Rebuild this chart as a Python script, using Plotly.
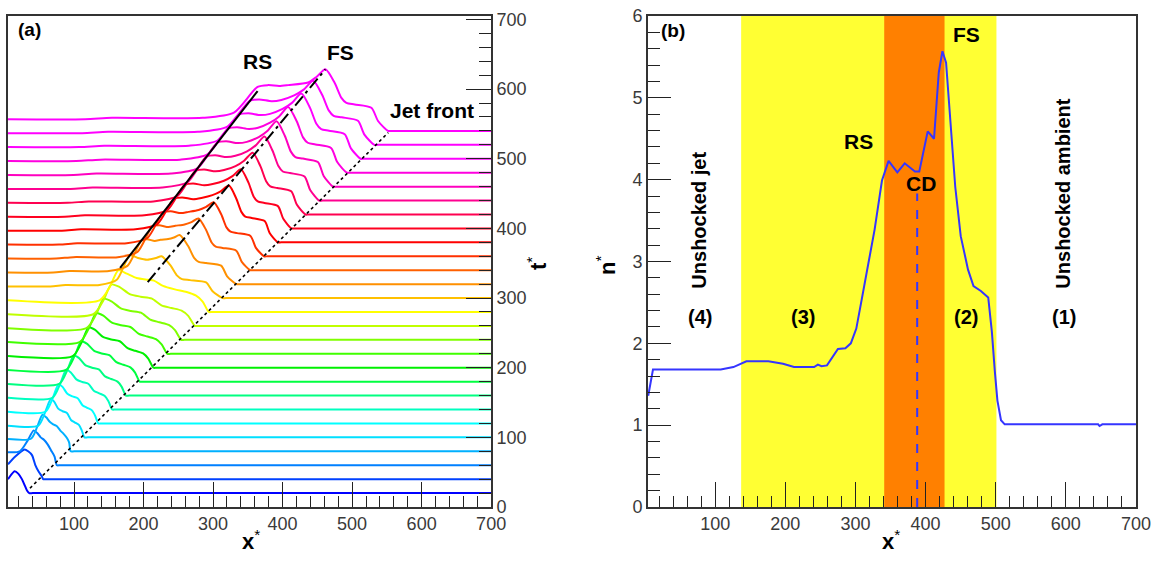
import plotly.graph_objects as go

# ---------------- DATA ----------------
# Panel (a): stacked profiles n*(x*) at times t*
curve_t = [20, 40, 60, 80, 100, 120, 140, 160, 180, 200, 220, 240, 260, 280,
           300, 320, 340, 360, 380, 400, 420, 440, 460, 480, 500, 520, 540]

curve_x = [
    [5, 14.6, 20, 25, 29, 32.3, 35.6, 40.6, 700],
    [5, 15.5, 29, 34, 39.5, 44.3, 49, 53.8, 55.5, 60.5, 700],
    [5, 22, 33, 42, 47, 52, 57, 62, 67, 72, 75.3, 80.3, 700],
    [5, 38, 47, 54.6, 60, 65, 70, 75, 80, 85, 90, 93, 95.2, 100.2, 700],
    [5, 48.6, 58.5, 66.6, 71.4, 77.2, 83.5, 89.8, 95.6, 101.4, 107.3, 111.1, 115.0, 120.0, 700],
    [5, 58.8, 69.3, 77.8, 83.5, 90.4, 97.8, 105.2, 112.1, 118.9, 125.8, 130.3, 134.9, 139.9, 700],
    [5, 68.8, 79.8, 88.8, 95.4, 103.3, 111.9, 120.5, 128.4, 136.3, 144.2, 149.5, 154.8, 159.8, 700],
    [5, 78.7, 90.2, 99.7, 107.2, 116.2, 125.9, 135.7, 144.6, 153.6, 162.6, 168.6, 174.6, 179.6, 700],
    [5, 88.5, 100.6, 110.5, 118.9, 129.0, 139.9, 150.8, 160.9, 171.0, 181.1, 187.8, 194.5, 199.5, 700],
    [5, 98.1, 110.8, 121.1, 130.4, 141.6, 153.7, 165.8, 177.0, 188.2, 199.4, 206.8, 214.3, 219.3, 700],
    [5, 108, 121.2, 132, 142.2, 154.5, 167.8, 181.1, 193.3, 205.6, 217.8, 226.0, 234.2, 239.2, 700],
    [5, 117.8, 131.6, 142.8, 153.9, 167.3, 181.8, 196.2, 209.6, 222.9, 236.3, 245.2, 254.1, 259.1, 700],
    [5, 127.7, 142.0, 153.7, 165.7, 180.1, 195.8, 211.4, 225.8, 240.2, 254.7, 264.3, 273.9, 278.9, 700],
    [5, 136.7, 151.5, 163.7, 176, 190, 206, 215, 228, 245, 262, 275, 285, 293.8, 298.8, 700],
    [5, 65.9, 87.8, 136.4, 161.5, 180.3, 192, 205, 218, 226, 239, 248.3, 255.3, 266.8, 290, 299.3, 313.6, 318.6, 700],
    [5, 70, 93.4, 150.1, 176.8, 196.8, 205.1, 216.1, 224.4, 235.4, 243.7, 252, 264.1, 272.7, 279.2, 290, 311.6, 320.2, 333.5, 338.5, 700],
    [5, 74.2, 99, 162.9, 191.2, 212.4, 222.4, 235.7, 245.7, 259, 269, 279, 290, 297.9, 303.8, 313.7, 333.4, 341.3, 353.4, 358.4, 700],
    [5, 78.4, 104.5, 175.8, 205.6, 228, 239, 253.6, 264.5, 279.1, 290, 301, 311.7, 319.3, 325.1, 334.6, 353.8, 361.4, 373.2, 378.2, 700],
    [5, 82.6, 110.1, 188.5, 219.9, 243.5, 255.4, 271.3, 283.2, 299, 310.9, 322.8, 333.2, 340.7, 346.3, 355.6, 374.2, 381.6, 393.1, 398.1, 700],
    [5, 86.7, 115.6, 201.2, 234.2, 259, 271.2, 287.4, 299.5, 315.7, 327.9, 340, 350.8, 358.5, 364.3, 374, 393.3, 401, 412.9, 417.9, 700],
    [5, 90.9, 121.2, 214, 248.6, 274.6, 287, 303.4, 315.8, 332.3, 344.6, 357, 368.2, 376.3, 382.3, 392.3, 412.4, 420.4, 432.8, 437.8, 700],
    [5, 95.1, 126.8, 226.8, 263, 290.2, 302.8, 319.5, 332.1, 348.9, 361.4, 374, 385.6, 394, 400.3, 410.7, 431.5, 439.9, 452.7, 457.7, 700],
    [5, 99.2, 132.3, 239.6, 277.4, 305.8, 318.6, 335.7, 348.6, 365.7, 378.5, 391.3, 403.3, 411.9, 418.4, 429.1, 450.7, 459.3, 472.5, 477.5, 700],
    [5, 103.4, 137.9, 252.5, 291.9, 321.4, 334.4, 351.7, 364.7, 382, 395, 408, 420.5, 429.4, 436.2, 447.3, 469.7, 478.6, 492.4, 497.4, 700],
    [5, 107.6, 143.4, 265.3, 306.3, 337, 350.5, 368.5, 382, 400, 413.5, 427, 439.6, 448.6, 455.5, 466.7, 489.3, 498.3, 512.2, 517.2, 700],
    [5, 111.7, 149, 278, 320.6, 352.5, 366.2, 384.5, 398.3, 416.6, 430.3, 444, 457, 466.4, 473.4, 485.1, 508.4, 517.7, 532.1, 537.1, 700],
    [5, 116, 154.6, 285, 330, 364, 379, 395, 408, 436.7, 448.7, 461.6, 475, 484.6, 491.8, 503.7, 527.7, 537.3, 551.6, 556.6, 700],
]

curve_n = [
    [1.8, 2.25, 2.1, 1.8, 1.45, 1.15, 1.0, 1.0, 1.0],
    [1.85, 2.3, 2.7, 2.6, 2.38, 1.81, 1.44, 1.15, 1.0, 1.0, 1.0],
    [1.75, 1.8, 2.4, 3.0, 2.85, 2.6, 2.45, 2.2, 1.85, 1.5, 1.0, 1.0, 1.0],
    [1.7, 1.72, 2.4, 3.1, 2.95, 2.7, 2.55, 2.45, 2.2, 2.0, 1.75, 1.5, 1.0, 1.0, 1.0],
    [1.67, 1.67, 2.45, 3.2, 3.05, 2.65, 2.5, 2.4, 2.0, 1.85, 1.7, 1.4, 1.0, 1.0, 1.0],
    [1.67, 1.67, 2.45, 3.25, 3.1, 2.7, 2.55, 2.45, 2.05, 1.9, 1.75, 1.45, 1.0, 1.0, 1.0],
    [1.67, 1.67, 2.45, 3.28, 3.13, 2.73, 2.58, 2.48, 2.08, 1.93, 1.78, 1.48, 1.0, 1.0, 1.0],
    [1.67, 1.67, 2.45, 3.3, 3.15, 2.75, 2.6, 2.5, 2.1, 1.95, 1.8, 1.5, 1.0, 1.0, 1.0],
    [1.67, 1.67, 2.45, 3.32, 3.17, 2.77, 2.62, 2.52, 2.12, 1.97, 1.82, 1.52, 1.0, 1.0, 1.0],
    [1.67, 1.67, 2.45, 3.32, 3.17, 2.77, 2.62, 2.52, 2.12, 1.97, 1.82, 1.52, 1.0, 1.0, 1.0],
    [1.67, 1.67, 2.45, 3.34, 3.19, 2.79, 2.64, 2.54, 2.14, 1.99, 1.84, 1.54, 1.0, 1.0, 1.0],
    [1.67, 1.67, 2.45, 3.36, 3.21, 2.81, 2.66, 2.56, 2.16, 2.01, 1.86, 1.56, 1.0, 1.0, 1.0],
    [1.67, 1.67, 2.45, 3.38, 3.23, 2.83, 2.68, 2.58, 2.18, 2.03, 1.88, 1.58, 1.0, 1.0, 1.0],
    [1.67, 1.67, 2.45, 3.4, 3.2, 2.95, 2.85, 2.8, 2.5, 2.3, 2.15, 1.95, 1.6, 1.0, 1.0, 1.0],
    [1.67, 1.67, 1.75, 1.75, 2.05, 3.45, 3.3, 3.2, 3.3, 3.4, 2.86, 2.29, 2.09, 2.03, 1.9, 1.39, 1.0, 1.0, 1.0],
    [1.67, 1.67, 1.75, 1.75, 2.05, 3.5, 3.58, 3.48, 3.55, 3.59, 3.68, 3.82, 3.19, 2.51, 2.28, 2.21, 2.06, 1.45, 1.0, 1.0, 1.0],
    [1.67, 1.67, 1.75, 1.75, 2.05, 3.5, 3.58, 3.48, 3.55, 3.63, 3.76, 3.97, 3.31, 2.59, 2.35, 2.28, 2.12, 1.48, 1.0, 1.0, 1.0],
    [1.67, 1.67, 1.75, 1.75, 2.05, 3.5, 3.58, 3.48, 3.55, 3.66, 3.84, 4.1, 3.41, 2.66, 2.41, 2.33, 2.17, 1.5, 1.0, 1.0, 1.0],
    [1.67, 1.67, 1.75, 1.75, 2.05, 3.5, 3.58, 3.48, 3.55, 3.71, 3.93, 4.26, 3.53, 2.75, 2.48, 2.4, 2.22, 1.52, 1.0, 1.0, 1.0],
    [1.67, 1.67, 1.75, 1.75, 2.05, 3.5, 3.58, 3.48, 3.55, 3.74, 4.0, 4.4, 3.64, 2.82, 2.55, 2.46, 2.28, 1.55, 1.0, 1.0, 1.0],
    [1.67, 1.67, 1.75, 1.75, 2.05, 3.5, 3.58, 3.48, 3.55, 3.78, 4.09, 4.55, 3.76, 2.91, 2.61, 2.52, 2.33, 1.57, 1.0, 1.0, 1.0],
    [1.67, 1.67, 1.75, 1.75, 2.05, 3.52, 3.6, 3.5, 3.57, 3.83, 4.17, 4.68, 3.86, 2.98, 2.67, 2.58, 2.38, 1.59, 1.0, 1.0, 1.0],
    [1.67, 1.67, 1.75, 1.75, 2.05, 3.52, 3.6, 3.5, 3.57, 3.85, 4.21, 4.75, 3.91, 3.01, 2.7, 2.61, 2.41, 1.6, 1.0, 1.0, 1.0],
    [1.67, 1.67, 1.75, 1.75, 2.05, 3.53, 3.61, 3.51, 3.58, 3.87, 4.23, 4.78, 3.94, 3.03, 2.72, 2.62, 2.42, 1.61, 1.0, 1.0, 1.0],
    [1.67, 1.67, 1.75, 1.75, 2.05, 3.53, 3.61, 3.51, 3.58, 3.86, 4.21, 4.75, 3.91, 3.01, 2.7, 2.61, 2.41, 1.6, 1.0, 1.0, 1.0],
    [1.67, 1.67, 1.75, 1.75, 2.05, 3.53, 3.61, 3.51, 3.58, 3.84, 4.17, 4.68, 3.86, 2.98, 2.67, 2.58, 2.38, 1.59, 1.0, 1.0, 1.0],
    [1.67, 1.67, 1.75, 1.75, 2.05, 3.53, 3.63, 3.58, 3.63, 3.78, 4.1, 4.54, 3.75, 2.9, 2.61, 2.52, 2.33, 1.57, 1.0, 1.0, 1.0],
]

# guide lines in panel (a) (x*, plotted height)
rs_line_x = [166.3, 364.0]
rs_line_y = [343.3, 597.2]
fs_line_x = [206.0, 461.6]
fs_line_y = [323.0, 628.4]
jet_line_x = [36.6, 552.1]
jet_line_y = [27.0, 537.6]

# Panel (b): single profile
prof_x = [4.5, 11.3, 107.9, 126, 144.5, 175.8, 196.7, 212.4, 241, 246.4, 251.6, 259.4,
          275, 285.6, 293.4, 301.2, 309, 315.8, 327.3, 337.8, 347.2, 359.7, 370.2,
          384.8, 391, 403, 408.3, 412, 418.8, 424, 429.2, 434.5, 442.3, 450.1, 460.5,
          468.3, 478.8, 489.3, 494.5, 498.7, 502.4, 507.5, 512.8, 646, 648, 652, 700]
prof_n = [1.36, 1.68, 1.68, 1.71, 1.78, 1.78, 1.75, 1.71, 1.71, 1.74, 1.72, 1.73,
          1.93, 1.94, 2.0, 2.18, 2.54, 2.86, 3.39, 3.99, 4.23, 4.09, 4.2,
          4.1, 4.1, 4.59, 4.53, 4.5, 5.31, 5.57, 5.43, 4.79, 3.91, 3.31, 2.90,
          2.70, 2.64, 2.56, 2.14, 1.66, 1.30, 1.06, 1.01, 1.01, 0.99, 1.01, 1.01]
cd_x = [388, 388]
cd_n = [0, 3.83]
region_yellow = [137, 501]
region_orange = [341, 427]

x_ticks = [100, 200, 300, 400, 500, 600, 700]

# ---------------- STYLE ----------------
FONT = "Arial, Liberation Sans, sans-serif"
N_SCALE = 25.0  # plotted height per unit n* in panel (a)
curve_colors = ['#0000ff', '#0040ff', '#0080ff', '#00b0ff', '#00e0ff', '#00ffff',
                '#00ffc0', '#00ff80', '#00ff40', '#00f000', '#40ff00', '#80ff00',
                '#c0ff00', '#ffff00', '#ffc000', '#ff9000', '#ff6000', '#ff3000',
                '#ff0000', '#ff0020', '#ff0050', '#ff0090', '#ff00c0', '#ff00e0',
                '#ff00ff', '#ff00ff', '#ff00ff']

fig = go.Figure()

for t, xs, ns, col in zip(curve_t, curve_x, curve_n, curve_colors):
    fig.add_trace(go.Scatter(
        x=xs, y=[t + N_SCALE * (n - 1.0) for n in ns], mode='lines',
        line=dict(color=col, width=2, shape='spline', smoothing=0.7),
        xaxis='x', yaxis='y', hoverinfo='skip'))

fig.add_trace(go.Scatter(x=rs_line_x, y=rs_line_y, mode='lines',
                         line=dict(color='black', width=2), xaxis='x', yaxis='y'))
fig.add_trace(go.Scatter(x=fs_line_x, y=fs_line_y, mode='lines',
                         line=dict(color='black', width=2, dash='12px,4px,3px,4px'),
                         xaxis='x', yaxis='y'))
fig.add_trace(go.Scatter(x=jet_line_x, y=jet_line_y, mode='lines',
                         line=dict(color='black', width=1.6, dash='dot'), xaxis='x', yaxis='y'))

fig.add_trace(go.Scatter(x=prof_x, y=prof_n, mode='lines',
                         line=dict(color='#3535ff', width=2), xaxis='x2', yaxis='y2'))
fig.add_trace(go.Scatter(x=cd_x, y=cd_n, mode='lines',
                         line=dict(color='#3535ff', width=2, dash='dash'), xaxis='x2', yaxis='y2'))

shapes = [
    dict(type='rect', xref='x2', yref='y2 domain', x0=region_yellow[0], x1=region_yellow[1],
         y0=0, y1=1, fillcolor='#ffff33', line=dict(width=0), layer='below'),
    dict(type='rect', xref='x2', yref='y2 domain', x0=region_orange[0], x1=region_orange[1],
         y0=0, y1=1, fillcolor='#ff8000', line=dict(width=0), layer='below'),
]

tickfont = dict(family=FONT, size=18, color='#3a3a3a')
common_axis = dict(showline=True, linecolor='#333333', linewidth=1.5, mirror=True,
                   ticks='inside', tickcolor='#222222', tickwidth=1, showgrid=False,
                   zeroline=False, tickfont=tickfont)

W, H = 1160, 561
L, R, T, B = 6, 24, 10, 54
pw = W - L - R
dom_a = [0, (490 - L) / pw]
dom_b = [(647 - L) / pw, 1]

fig.update_layout(
    width=W, height=H, margin=dict(l=L, r=R, t=T, b=B),
    plot_bgcolor='white', paper_bgcolor='white', showlegend=False,
    shapes=shapes,
    xaxis=dict(domain=dom_a, range=[5, 700], anchor='y', tickmode='array', tickvals=x_ticks,
               ticklen=25, minor=dict(ticks='inside', ticklen=11, dtick=20, tick0=0,
                                      tickcolor='#222222'), **common_axis),
    yaxis=dict(domain=[0, 1], range=[0, 705], anchor='x', side='right', tick0=0, dtick=100,
               ticklen=25, minor=dict(ticks='inside', ticklen=12, dtick=20, tick0=0,
                                      tickcolor='#222222'), **common_axis),
    xaxis2=dict(domain=dom_b, range=[4, 700], anchor='y2', tickmode='array', tickvals=x_ticks,
                ticklen=25, minor=dict(ticks='inside', ticklen=11, dtick=20, tick0=0,
                                       tickcolor='#222222'), **common_axis),
    yaxis2=dict(domain=[0, 1], range=[0, 6], anchor='x2', tick0=0, dtick=1,
                ticklen=23, minor=dict(ticks='inside', ticklen=12, dtick=0.2, tick0=0,
                                       tickcolor='#222222'), **common_axis),
)

def px2paper(px, py):
    return (px - L) / pw, (H - B - py) / (H - B - T)

bold = dict(family=FONT, size=21, color='black')
lab20 = dict(family=FONT, size=20, color='black')
ann = []
ann += [
    dict(x=36.6, y=685, xref='x', yref='y', text='<b>(a)</b>', showarrow=False, font=dict(family=FONT, size=19, color='black')),
    dict(x=364, y=640, xref='x', yref='y', text='<b>RS</b>', showarrow=False, font=bold),
    dict(x=483, y=652, xref='x', yref='y', text='<b>FS</b>', showarrow=False, font=bold),
    dict(x=615, y=570, xref='x', yref='y', text='<b>Jet front</b>', showarrow=False, font=bold),
]
ann += [
    dict(x=40, y=5.82, xref='x2', yref='y2', text='<b>(b)</b>', showarrow=False, font=dict(family=FONT, size=19, color='black')),
    dict(x=458, y=5.78, xref='x2', yref='y2', text='<b>FS</b>', showarrow=False, font=bold),
    dict(x=304, y=4.47, xref='x2', yref='y2', text='<b>RS</b>', showarrow=False, font=bold),
    dict(x=393, y=3.95, xref='x2', yref='y2', text='<b>CD</b>', showarrow=False, font=bold),
    dict(x=77, y=3.5, xref='x2', yref='y2', text='<b>Unshocked jet</b>', textangle=-90, showarrow=False, font=lab20),
    dict(x=596, y=3.83, xref='x2', yref='y2', text='<b>Unshocked ambient</b>', textangle=-90, showarrow=False, font=lab20),
    dict(x=78, y=2.32, xref='x2', yref='y2', text='<b>(4)</b>', showarrow=False, font=lab20),
    dict(x=225, y=2.32, xref='x2', yref='y2', text='<b>(3)</b>', showarrow=False, font=lab20),
    dict(x=458, y=2.32, xref='x2', yref='y2', text='<b>(2)</b>', showarrow=False, font=lab20),
    dict(x=597, y=2.32, xref='x2', yref='y2', text='<b>(1)</b>', showarrow=False, font=lab20),
]
title_font = dict(family=FONT, size=22, color='black')
for (px, py, txt, ang) in [(249, 540, '<b>x</b><sup>*</sup>', 0), (891, 540, '<b>x</b><sup>*</sup>', 0),
                           (536, 261, '<b>t</b><sup>*</sup>', -90), (605, 262, '<b>n</b><sup>*</sup>', -90)]:
    xp, yp = px2paper(px, py)
    ann.append(dict(x=xp, y=yp, xref='paper', yref='paper', text=txt, textangle=ang,
                    showarrow=False, font=title_font, xanchor='center', yanchor='middle'))

fig.update_layout(annotations=ann)
fig.write_html("out.html", config={'displayModeBar': False},
               post_script="document.body.style.margin='0px';document.body.style.overflow='hidden';")
